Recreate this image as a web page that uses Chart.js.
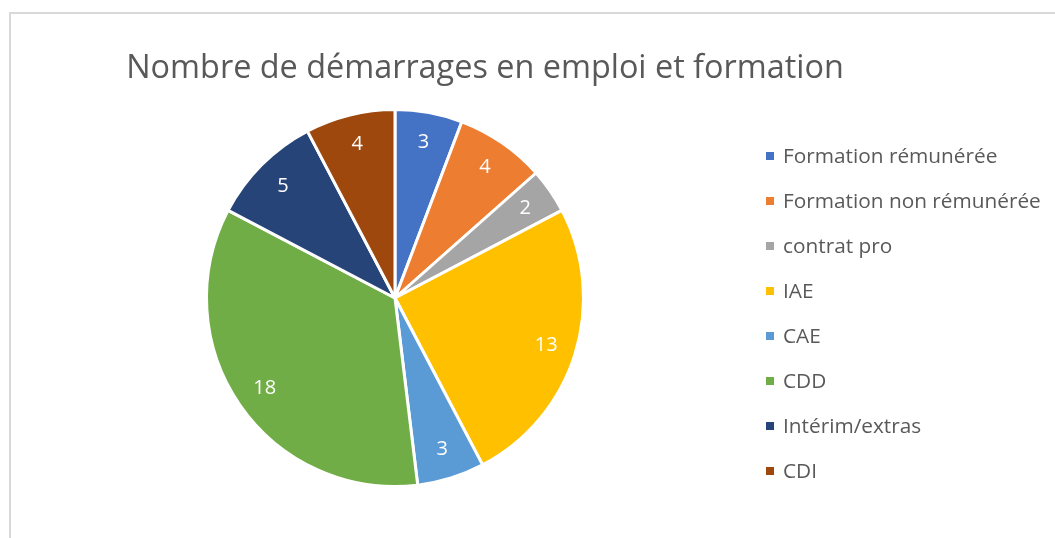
<!DOCTYPE html>
<html>
<head>
<meta charset="utf-8">
<script src="https://cdn.jsdelivr.net/npm/chart.js@4.4.1/dist/chart.umd.min.js"></script>
<style>
    body { margin: 0; background: #fff; font-family: "Open Sans", sans-serif; }
    #wrap { position: relative; width: 1055px; height: 538px; overflow: hidden; }
    #frame { position: absolute; left: 9px; top: 12px; right: -5px; bottom: -5px;
             border-left: 2px solid #d9d9d9; border-top: 2px solid #d9d9d9; }
    #pieChart { position: absolute; left: 0; top: 0; }
    #title { position: absolute; left: 0; top: 46px; width: 970px; text-align: center;
             font-size: 32.4px; line-height: 38px; color: #595959; }
    #legend { position: absolute; left: 766px; top: 133px; margin: 0; padding: 0; list-style: none; }
    #legend li { height: 45px; line-height: 45px; font-size: 20.8px; color: #595959; white-space: nowrap; }
    #legend span.box { display: inline-block; width: 8px; height: 8px; margin-right: 9px; vertical-align: middle; position: relative; top: -1px; }
</style>
</head>
<body>
<div id="wrap">
    <div id="frame"></div>
    <canvas id="pieChart" width="1055" height="538"></canvas>
    <div id="title">Nombre de démarrages en emploi et formation</div>
    <ul id="legend"></ul>
</div>
<script>
const categories = ["Formation rémunérée", "Formation non rémunérée", "contrat pro", "IAE", "CAE", "CDD", "Intérim/extras", "CDI"];
const starts = [3, 4, 2, 13, 3, 18, 5, 4];
const sliceColors = ["#4472C4", "#ED7D31", "#A5A5A5", "#FFC000", "#5B9BD5", "#70AD47", "#264478", "#9E480E"];

// valeurs écrites dans les parts, vers le bord extérieur
const sliceLabels = {
    id: "sliceLabels",
    afterDatasetsDraw(chart) {
        const ctx = chart.ctx;
        const meta = chart.getDatasetMeta(0);
        ctx.save();
        ctx.font = "20px 'Open Sans'";
        ctx.fillStyle = "#fff";
        ctx.textAlign = "center";
        ctx.textBaseline = "middle";
        meta.data.forEach(function (arc, i) {
            const p = arc.getProps(["x", "y", "startAngle", "endAngle", "outerRadius"], true);
            const mid = (p.startAngle + p.endAngle) / 2;
            const r = p.outerRadius * 0.84;
            ctx.fillText(String(chart.data.datasets[0].data[i]), p.x + Math.cos(mid) * r, p.y + Math.sin(mid) * r);
        });
        ctx.restore();
    }
};

const pieCtx = document.getElementById("pieChart").getContext("2d");
const pieChart = new Chart(pieCtx, {
    type: "pie",
    data: {
        labels: categories,
        datasets: [{
            data: starts,
            backgroundColor: sliceColors,
            borderColor: "#fff",
            borderWidth: 3
        }]
    },
    options: {
        responsive: false,
        animation: false,
        layout: { padding: { left: 205, right: 470, top: 108, bottom: 50 } },
        plugins: {
            legend: { display: false },
            title: { display: false },
            tooltip: { enabled: false }
        }
    },
    plugins: [sliceLabels]
});

// légende en HTML à droite
const legendEl = document.getElementById("legend");
categories.forEach(function (name, i) {
    const li = document.createElement("li");
    const box = document.createElement("span");
    box.className = "box";
    box.style.background = sliceColors[i];
    li.appendChild(box);
    li.appendChild(document.createTextNode(name));
    legendEl.appendChild(li);
});
</script>
</body>
</html>
